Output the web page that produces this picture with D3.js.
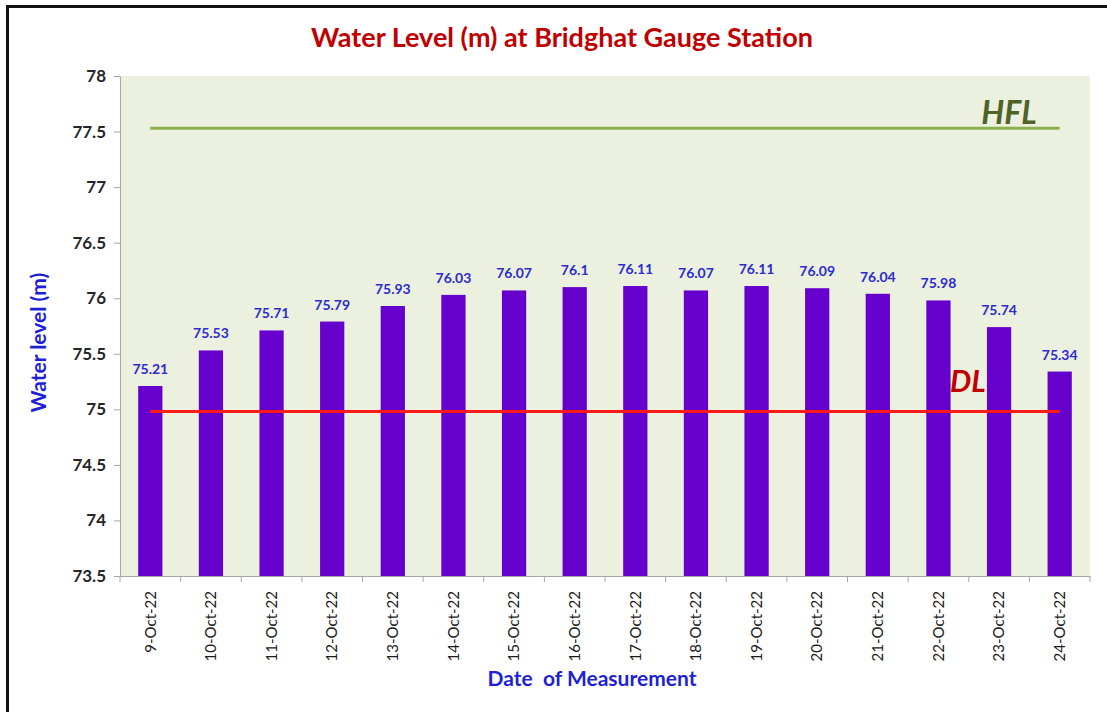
<!DOCTYPE html>
<html lang="en">
<head>
    <meta charset="UTF-8">
    <title>Water Level at Bridghat Gauge Station</title>
    <script src="https://d3js.org/d3.v7.min.js"></script>
    <style>
        body { margin: 0; background: #fff; }
        text { font-family: Lato, "Open Sans", sans-serif; }
    </style>
</head>
<body>
    <div id="chart"></div>

    <script>
        // data
        const dates = ["9-Oct-22", "10-Oct-22", "11-Oct-22", "12-Oct-22", "13-Oct-22", "14-Oct-22",
            "15-Oct-22", "16-Oct-22", "17-Oct-22", "18-Oct-22", "19-Oct-22", "20-Oct-22",
            "21-Oct-22", "22-Oct-22", "23-Oct-22", "24-Oct-22"];
        const levels = [75.21, 75.53, 75.71, 75.79, 75.93, 76.03, 76.07, 76.1, 76.11, 76.07,
            76.11, 76.09, 76.04, 75.98, 75.74, 75.34];
        const yTicks = [73.5, 74, 74.5, 75, 75.5, 76, 76.5, 77, 77.5, 78];
        const hfl = 77.53;
        const dl = 74.98;

        const W = 1107, H = 712;
        const margin = {top: 76, right: 17, bottom: 136, left: 120};
        const width = W - margin.left - margin.right,
              height = H - margin.top - margin.bottom;

        const root = d3.select("#chart")
          .append("svg")
            .attr("width", W)
            .attr("height", H);

        // outer frame (left + top edges visible)
        root.append("path")
            .attr("d", `M7.5,${H} L7.5,6.5 L${W},6.5`)
            .attr("fill", "none")
            .attr("stroke", "#111")
            .attr("stroke-width", 3);

        const svg = root.append("g")
            .attr("transform", `translate(${margin.left},${margin.top})`);

        const x = d3.scaleBand()
            .domain(dates)
            .range([0, width])
            .paddingInner(0.6)
            .paddingOuter(0.3);

        const y = d3.scaleLinear()
            .domain([73.5, 78])
            .range([height, 0]);

        // plot background
        svg.append("rect")
            .attr("width", width)
            .attr("height", height)
            .attr("fill", "#ebf0df");

        // Y axis
        const yAxis = svg.append("g")
            .call(d3.axisLeft(y).tickValues(yTicks).tickFormat(d3.format("")).tickSize(6).tickSizeOuter(0));
        yAxis.select(".domain").attr("stroke", "#a6a6a6");
        yAxis.selectAll(".tick line").attr("stroke", "#a6a6a6");
        yAxis.selectAll(".tick text")
            .attr("x", -14)
            .attr("fill", "#262626")
            .style("font-size", "17px")
            .style("font-weight", "bold");

        // X axis
        const xAxis = svg.append("g")
            .attr("transform", `translate(0,${height})`)
            .call(d3.axisBottom(x).tickSize(0).tickSizeOuter(0));
        xAxis.select(".domain").attr("stroke", "#a6a6a6");
        xAxis.selectAll(".tick text")
            .attr("transform", "rotate(-90)")
            .attr("x", -15)
            .attr("y", 0)
            .attr("dy", "0.35em")
            .style("text-anchor", "end")
            .attr("fill", "#1a1a1a")
            .style("font-size", "15px");

        // tick marks between categories
        const step = x.step();
        const boundaries = dates.map(d => x(d) - (step - x.bandwidth()) / 2);
        boundaries.push(width);
        xAxis.selectAll(".sep")
            .data(boundaries)
            .join("line")
            .attr("class", "sep")
            .attr("x1", d => d).attr("x2", d => d)
            .attr("y1", 0).attr("y2", 6)
            .attr("stroke", "#a6a6a6");

        // bars
        svg.selectAll(".bar")
            .data(levels)
            .join("rect")
            .attr("class", "bar")
            .attr("x", (d, i) => x(dates[i]))
            .attr("y", d => y(d))
            .attr("width", x.bandwidth())
            .attr("height", d => height - y(d))
            .attr("fill", "#6600cc");

        // value labels
        svg.selectAll(".val")
            .data(levels)
            .join("text")
            .attr("class", "val")
            .attr("x", (d, i) => x(dates[i]) + x.bandwidth() / 2)
            .attr("y", d => y(d) - 12)
            .attr("text-anchor", "middle")
            .attr("fill", "#2b2bd0")
            .style("font-size", "14px")
            .style("font-weight", "bold")
            .text(d => d);

        const x0 = x(dates[0]) + x.bandwidth() / 2,
              x1 = x(dates[dates.length - 1]) + x.bandwidth() / 2;

        // HFL line
        svg.append("line")
            .attr("x1", x0).attr("x2", x1)
            .attr("y1", y(hfl)).attr("y2", y(hfl))
            .attr("stroke", "#8db04f")
            .attr("stroke-width", 3);
        svg.append("text")
            .attr("x", x1 - 23)
            .attr("y", y(hfl) - 4)
            .attr("text-anchor", "end")
            .attr("fill", "#4f6228")
            .style("font-size", "32px")
            .style("font-weight", "bold")
            .style("font-style", "italic")
            .text("HFL");

        // DL line
        svg.append("line")
            .attr("x1", x0).attr("x2", x1)
            .attr("y1", y(dl)).attr("y2", y(dl))
            .attr("stroke", "#ff1a1a")
            .attr("stroke-width", 3);
        svg.append("text")
            .attr("x", x1 - 74)
            .attr("y", y(dl) - 20)
            .attr("text-anchor", "end")
            .attr("fill", "#c00000")
            .style("font-size", "30px")
            .style("font-weight", "bold")
            .style("font-style", "italic")
            .text("DL");

        // title
        root.append("text")
            .attr("x", 562)
            .attr("y", 47)
            .attr("text-anchor", "middle")
            .attr("fill", "#c00000")
            .style("font-size", "27px")
            .style("font-weight", "bold")
            .text("Water Level (m) at Bridghat Gauge Station");

        // axis titles
        root.append("text")
            .attr("transform", `translate(46,${margin.top + y(75.6)}) rotate(-90)`)
            .attr("text-anchor", "middle")
            .attr("fill", "#1f1fd6")
            .style("font-size", "21px")
            .style("font-weight", "bold")
            .text("Water level (m)");

        root.append("text")
            .attr("x", 592)
            .attr("y", 686)
            .attr("text-anchor", "middle")
            .attr("fill", "#1f1fd6")
            .style("font-size", "21px")
            .style("font-weight", "bold")
            .style("white-space", "pre")
            .text("Date  of Measurement");
    </script>
</body>
</html>
